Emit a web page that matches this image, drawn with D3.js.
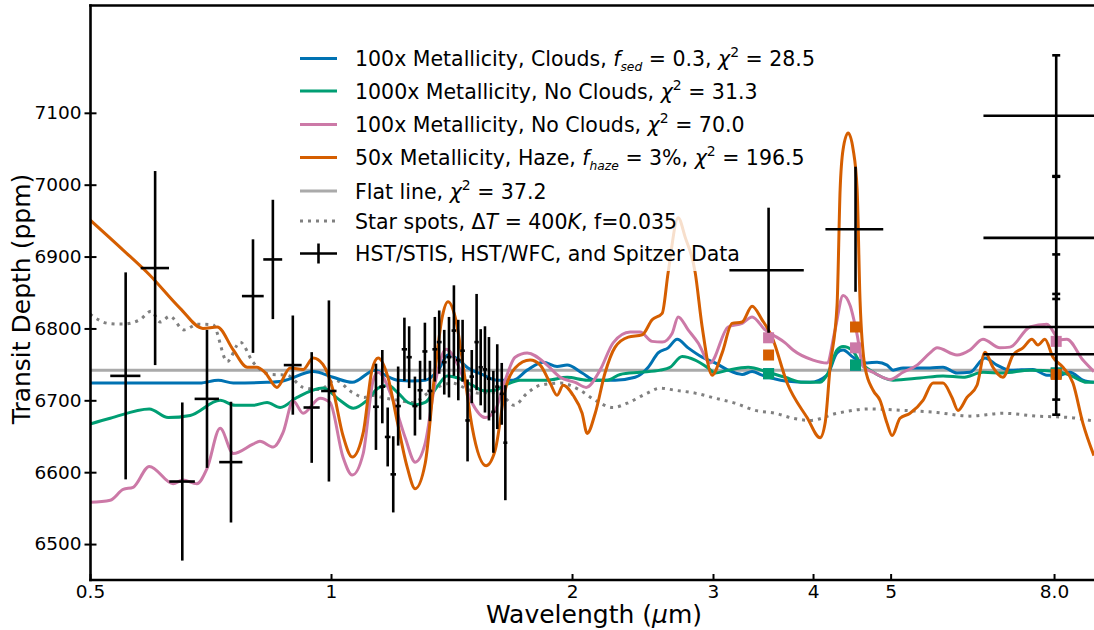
<!DOCTYPE html>
<html><head><meta charset="utf-8">
<script src="https://cdn.jsdelivr.net/npm/d3@7/dist/d3.min.js"></script>
<style>
html,body{margin:0;padding:0;background:#fff;}
svg{display:block;}
text{font-family:"DejaVu Sans",sans-serif;white-space:pre;}
</style></head><body>
<svg id="chart" width="1094" height="630"></svg>
<script>
// ---------------- data ----------------
const xTickValues = [0.5, 1, 2, 3, 4, 5, 8];
const xTickLabels = ["0.5", "1", "2", "3", "4", "5", "8.0"];
const yTickValues = [6500, 6600, 6700, 6800, 6900, 7000, 7100];

const blueWave = [0.500,0.577,0.686,0.723,0.755,0.832,0.871,0.950,1.006,1.063,1.135,1.168,1.213,1.263,1.311,1.361,1.400,1.441,1.483,1.544,1.612,1.688,1.758,1.841,1.916,1.972,2.059,2.138,2.264,2.398,2.490,2.562,2.637,2.706,2.793,2.908,3.018,3.133,3.262,3.357,3.455,3.692,3.966,4.165,4.286,4.361,4.489,4.672,4.809,4.949,5.035,5.182,5.600,5.813,6.052,6.282,6.559,6.788,7.047,7.529,7.838,8.136,8.374,8.693,8.972];
const blueDepth = [6724,6724,6724,6728,6724,6725,6727,6740,6732,6725,6742,6735,6728,6727,6728,6742,6763,6757,6745,6736,6728,6728,6742,6753,6747,6749,6738,6728,6728,6732,6746,6766,6773,6785,6773,6760,6752,6742,6736,6740,6735,6727,6725,6735,6766,6770,6760,6752,6753,6749,6742,6745,6745,6746,6738,6739,6759,6749,6742,6743,6735,6735,6739,6728,6725];

const tealWave = [0.500,0.530,0.593,0.626,0.667,0.727,0.759,0.799,0.832,0.864,0.907,0.977,1.026,1.066,1.109,1.145,1.178,1.213,1.248,1.277,1.311,1.361,1.396,1.441,1.501,1.558,1.603,1.650,1.723,1.862,1.972,2.089,2.212,2.297,2.433,2.577,2.652,2.745,2.850,2.958,3.018,3.133,3.319,3.515,3.692,3.887,4.082,4.177,4.286,4.361,4.476,4.579,4.713,5.035,5.441,5.813,6.157,6.521,6.906,7.464,8.067,8.374,8.793,8.972];
const tealDepth = [6667,6675,6688,6676,6679,6700,6693,6693,6697,6690,6704,6717,6700,6689,6700,6717,6721,6710,6697,6694,6697,6721,6734,6731,6721,6713,6714,6721,6728,6728,6732,6728,6728,6736,6739,6742,6746,6761,6756,6745,6738,6742,6746,6739,6732,6725,6725,6738,6770,6775,6770,6753,6742,6728,6731,6734,6732,6739,6738,6742,6740,6735,6725,6725];

const pinkWave = [0.500,0.530,0.550,0.566,0.593,0.635,0.653,0.680,0.700,0.727,0.755,0.799,0.815,0.847,0.871,0.897,0.923,0.969,0.997,1.035,1.063,1.097,1.129,1.145,1.192,1.238,1.274,1.311,1.349,1.392,1.441,1.501,1.558,1.603,1.650,1.698,1.758,1.862,1.933,2.018,2.083,2.168,2.251,2.364,2.433,2.518,2.592,2.667,2.714,2.793,2.874,2.975,3.133,3.262,3.357,3.485,3.566,3.692,3.777,4.000,4.165,4.262,4.361,4.450,4.541,4.619,4.754,4.992,5.182,5.395,5.600,5.714,6.052,6.282,6.521,6.847,7.047,7.464,7.838,8.136,8.301,8.693,8.972];
const pinkDepth = [6558,6561,6576,6579,6608,6584,6589,6584,6605,6661,6626,6639,6643,6635,6655,6699,6682,6703,6697,6621,6596,6626,6728,6739,6704,6648,6614,6640,6724,6771,6749,6696,6676,6686,6728,6760,6766,6749,6732,6725,6718,6742,6780,6795,6795,6782,6781,6793,6816,6798,6780,6752,6802,6807,6816,6798,6791,6780,6770,6756,6752,6798,6846,6832,6791,6747,6739,6729,6739,6749,6766,6773,6763,6770,6785,6773,6774,6802,6806,6784,6785,6756,6740];

const orangeWave = [0.500,0.550,0.594,0.648,0.692,0.721,0.755,0.786,0.808,0.827,0.856,0.889,0.923,0.950,0.977,1.006,1.035,1.063,1.097,1.125,1.145,1.178,1.209,1.245,1.274,1.311,1.349,1.377,1.400,1.429,1.471,1.501,1.562,1.603,1.650,1.698,1.773,1.825,1.878,1.916,1.950,2.006,2.059,2.089,2.138,2.199,2.264,2.351,2.447,2.518,2.592,2.637,2.714,2.769,2.850,2.908,2.992,3.080,3.169,3.262,3.357,3.455,3.555,3.713,3.932,4.082,4.141,4.201,4.286,4.324,4.361,4.425,4.489,4.541,4.579,4.645,4.754,4.850,4.949,5.021,5.137,5.287,5.488,5.649,5.813,5.965,6.069,6.228,6.410,6.559,6.711,6.906,7.108,7.316,7.507,7.638,7.793,7.975,8.207,8.447,8.693,8.972];
const orangeDepth = [6951,6909,6874,6828,6800,6802,6770,6746,6746,6739,6718,6745,6743,6759,6750,6714,6651,6621,6655,6742,6759,6732,6672,6607,6577,6612,6742,6816,6837,6816,6728,6662,6609,6630,6714,6745,6756,6749,6724,6707,6721,6707,6682,6654,6682,6738,6774,6788,6791,6812,6821,6878,6954,6927,6878,6802,6735,6766,6807,6809,6831,6812,6788,6724,6676,6648,6668,6746,6832,6993,7049,7072,7049,6993,6839,6746,6714,6700,6668,6651,6675,6682,6700,6724,6724,6704,6686,6704,6721,6767,6746,6732,6763,6773,6785,6777,6785,6760,6746,6724,6668,6623];

const flatWave = [0.5, 9.0];
const flatDepth = [6742, 6742];

const spotWave = [0.500,0.527,0.550,0.577,0.596,0.612,0.629,0.655,0.682,0.712,0.742,0.770,0.799,0.839,0.881,0.923,0.969,1.012,1.063,1.100,1.125,1.168,1.213,1.263,1.322,1.377,1.417,1.471,1.527,1.589,1.650,1.693,1.758,1.825,1.933,2.047,2.138,2.251,2.344,2.483,2.577,2.690,2.850,3.018,3.197,3.386,3.586,3.777,3.966,4.286,4.713,5.182,5.714,6.282,6.906,7.616,8.374,8.972];
const spotDepth = [6820,6807,6806,6812,6824,6809,6817,6798,6806,6805,6754,6781,6753,6736,6735,6718,6715,6728,6711,6704,6707,6703,6700,6697,6710,6721,6724,6717,6710,6711,6703,6693,6710,6721,6724,6714,6700,6690,6696,6710,6717,6714,6710,6703,6696,6686,6682,6675,6672,6682,6688,6686,6683,6678,6682,6678,6676,6671];

// binned model values at the Spitzer bands
const bandWave = [3.52, 4.52, 8.05];
const bandBlue = [6737, 6749, 6738];
const bandTeal = [6737, 6749, 6738];
const bandPink = [6787, 6773, 6782];
const bandOrange = [6763, 6802, 6736];

// HST/STIS
const stisWave = [0.554,0.603,0.652,0.700,0.750,0.799,0.846,0.896,0.946,0.994];
const stisHalfWidth = [0.024,0.0245,0.024,0.0245,0.025,0.025,0.023,0.023,0.022,0.022];
const stisDepth = [6734,6884,6587,6702,6614,6845,6896,6749,6690,6713];
const stisErr = [144,135,110,96,84,79,83,69,77,126];

// HST/WFC3
const wfcWave = [1.138,1.159,1.177,1.196,1.213,1.235,1.252,1.273,1.292,1.310,1.329,1.348,1.365,1.385,1.404,1.424,1.442,1.460,1.481,1.499,1.520,1.538,1.557,1.575,1.595,1.613,1.634,1.651];
const wfcHalfWidth = [0.0095,0.0095,0.0095,0.0095,0.0095,0.0095,0.0095,0.0095,0.0095,0.0095,0.0095,0.0095,0.0095,0.0095,0.0095,0.0095,0.0095,0.0095,0.0095,0.0095,0.0095,0.0095,0.0095,0.0095,0.0095,0.0095,0.0095,0.0095];
const wfcDepth = [6691,6719,6649,6597,6692,6771,6760,6692,6714,6768,6713,6771,6781,6753,6760,6797,6756,6769,6672,6733,6781,6746,6743,6730,6684,6719,6709,6641];
const wfcErr = [60,51,41,53,55,44,43,41,41,40,42,45,44,45,56,63,56,43,57,37,67,53,60,58,57,59,43,80];

// Spitzer IRAC 3.6 / 4.5
const iracWave = [3.52, 4.52];
const iracHalfWidth = [0.375, 0.375];
const iracDepth = [6881, 6938];
const iracErr = [87, 87];

// Spitzer 8 micron
const irac8Wave = [8.05, 8.05, 8.05, 8.05];
const irac8HalfWidth = [1.52, 1.52, 1.52, 1.52];
const irac8Depth = [7096, 6926, 6802, 6764];
const irac8Err = [84, 85, 101, 84];

// ---------------- drawing ----------------
const C = {blue:"#0072B2", teal:"#009E73", pink:"#CC79A7", orange:"#D55E00", flat:"#AAAAAA", spot:"#808080"};
const svg = d3.select("#chart");
const x = d3.scaleLog().domain([0.5, 9.0]).range([90, 1095]);
const y = d3.scaleLinear().domain([6450, 7250]).range([580, 5]);

svg.append("defs").append("clipPath").attr("id","clip")
  .append("rect").attr("x",90).attr("y",5).attr("width",1010).attr("height",575);

const plot = svg.append("g").attr("clip-path","url(#clip)");
const line = d3.line().x(d=>x(d[0])).y(d=>y(d[1])).curve(d3.curveMonotoneX);

function drawSeries(w, v, color, dash) {
  const p = plot.append("path").datum(d3.zip(w, v))
    .attr("d", line).attr("fill","none").attr("stroke",color)
    .attr("stroke-width",3).attr("stroke-linejoin","round");
  if (dash) p.attr("stroke-dasharray", dash);
}
drawSeries(flatWave, flatDepth, C.flat);
drawSeries(spotWave, spotDepth, C.spot, "3,5");
drawSeries(blueWave, blueDepth, C.blue);
drawSeries(tealWave, tealDepth, C.teal);
drawSeries(pinkWave, pinkDepth, C.pink);
drawSeries(orangeWave, orangeDepth, C.orange);

// legend background (semi-transparent)
svg.append("rect").attr("x",290).attr("y",38).attr("width",532).attr("height",233)
  .attr("fill","#fff").attr("fill-opacity",0.8);

// band squares
const sq = 11;
[[bandBlue,C.blue],[bandTeal,C.teal],[bandPink,C.pink],[bandOrange,C.orange]].forEach(([vals,col])=>{
  svg.append("g").selectAll("rect").data(d3.zip(bandWave, vals)).join("rect")
    .attr("x", d=>x(d[0])-sq/2).attr("y", d=>y(d[1])-sq/2)
    .attr("width", sq).attr("height", sq).attr("fill", col);
});

// error bars
function drawErr(w, hw, v, e, caps) {
  const g = svg.append("g").attr("stroke","#000").attr("stroke-width",2.6);
  const pts = w.map((wi,i)=>({w:wi, hw:hw[i], v:v[i], e:e[i]}));
  g.selectAll("line.v").data(pts).join("line").attr("class","v")
    .attr("x1",d=>x(d.w)).attr("x2",d=>x(d.w))
    .attr("y1",d=>y(d.v+d.e)).attr("y2",d=>y(d.v-d.e));
  g.selectAll("line.h").data(pts).join("line").attr("class","h")
    .attr("x1",d=>x(d.w-d.hw)).attr("x2",d=>x(d.w+d.hw))
    .attr("y1",d=>y(d.v)).attr("y2",d=>y(d.v));
  if (caps) {
    const capPts = [];
    pts.forEach(d=>{ capPts.push({w:d.w, v:d.v+d.e}); capPts.push({w:d.w, v:d.v-d.e}); });
    g.selectAll("line.c").data(capPts).join("line").attr("class","c")
      .attr("x1",d=>x(d.w)-4).attr("x2",d=>x(d.w)+4)
      .attr("y1",d=>y(d.v)).attr("y2",d=>y(d.v));
  }
}
drawErr(stisWave, stisHalfWidth, stisDepth, stisErr, false);
drawErr(wfcWave, wfcHalfWidth, wfcDepth, wfcErr, false);
drawErr(iracWave, iracHalfWidth, iracDepth, iracErr, false);
drawErr(irac8Wave, irac8HalfWidth, irac8Depth, irac8Err, true);

// axes
const yAxis = d3.axisLeft(y).tickValues(yTickValues).tickFormat(d3.format("d")).tickSize(6).tickPadding(3);
const gy = svg.append("g").attr("transform","translate(90.5,0)").call(yAxis);
gy.select(".domain").remove();
gy.selectAll(".tick line").attr("x1",6).attr("stroke","#000").attr("stroke-width",2);
gy.selectAll(".tick text").attr("font-size",18.5).attr("font-family","DejaVu Sans").attr("fill","#000");

const xAxis = d3.axisBottom(x).tickValues(xTickValues).tickFormat((d,i)=>xTickLabels[i]).tickSize(-6).tickPadding(5);
const gx = svg.append("g").attr("transform","translate(0,580)").call(xAxis);
gx.select(".domain").remove();
gx.selectAll(".tick line").attr("stroke","#000").attr("stroke-width",2);
gx.selectAll(".tick text").attr("font-size",18.5).attr("font-family","DejaVu Sans").attr("fill","#000");

// spines
const sp = svg.append("g").attr("stroke","#000").attr("stroke-width",2.6);
sp.append("line").attr("x1",90.5).attr("x2",90.5).attr("y1",4.2).attr("y2",581.3);
sp.append("line").attr("x1",89.2).attr("x2",1094).attr("y1",5.5).attr("y2",5.5);
sp.append("line").attr("x1",89.2).attr("x2",1094).attr("y1",580).attr("y2",580);

// axis labels
svg.append("text").attr("transform","translate(30,299) rotate(-90)").attr("text-anchor","middle")
  .attr("font-size",25).text("Transit Depth (ppm)");
const xl = svg.append("text").attr("x",594).attr("y",623).attr("text-anchor","middle").attr("font-size",25);
xl.append("tspan").text("Wavelength (");
xl.append("tspan").attr("font-style","italic").text("μ");
xl.append("tspan").text("m)");

// legend
const LS = 20.5;
function richText(g, tx, ty, parts) {
  const t = g.append("text").attr("x",tx).attr("y",ty).attr("font-size",LS).attr("fill","#000");
  let shift = 0;
  parts.forEach(([s, st])=>{
    const ts = t.append("tspan").text(s);
    let target = 0;
    if (st === "sub") { target = LS*0.26; ts.attr("font-size",LS*0.6).attr("font-style","italic"); }
    else if (st === "sup") { target = -LS*0.42; ts.attr("font-size",LS*0.68); }
    else if (st === "it") ts.attr("font-style","italic");
    ts.attr("dy", target - shift);
    shift = target;
  });
}
const legendRows = [
  {y:58.5, color:C.blue, parts:[["100x Metallicity, Clouds, "],["f","it"],["sed","sub"],[" = 0.3, "],["χ","it"],["2","sup"],[" = 28.5"]]},
  {y:91, color:C.teal, parts:[["1000x Metallicity, No Clouds, "],["χ","it"],["2","sup"],[" = 31.3"]]},
  {y:124.5, color:C.pink, parts:[["100x Metallicity, No Clouds, "],["χ","it"],["2","sup"],[" = 70.0"]]},
  {y:157.5, color:C.orange, parts:[["50x Metallicity, Haze, "],["f","it"],["haze","sub"],[" = 3%, "],["χ","it"],["2","sup"],[" = 196.5"]]},
  {y:191, color:C.flat, parts:[["Flat line, "],["χ","it"],["2","sup"],[" = 37.2"]]},
  {y:221, color:C.spot, dash:"3,5", parts:[["Star spots, Δ"],["T","it"],[" = 400"],["K","it"],[", f=0.035"]]},
  {y:253.5, color:"#000", data:true, parts:[["HST/STIS, HST/WFC, and Spitzer Data"]]}
];
const lg = svg.append("g");
legendRows.forEach(r=>{
  const l = lg.append("line").attr("x1",300).attr("x2",337).attr("y1",r.y).attr("y2",r.y)
    .attr("stroke",r.color).attr("stroke-width", r.data ? 2.6 : 3);
  if (r.dash) l.attr("stroke-dasharray", r.dash);
  if (r.data) lg.append("line").attr("x1",318.5).attr("x2",318.5).attr("y1",r.y-10).attr("y2",r.y+10)
    .attr("stroke","#000").attr("stroke-width",2.6);
  richText(lg, 355, r.y + 7.5, r.parts);
});
</script>
</body></html>
